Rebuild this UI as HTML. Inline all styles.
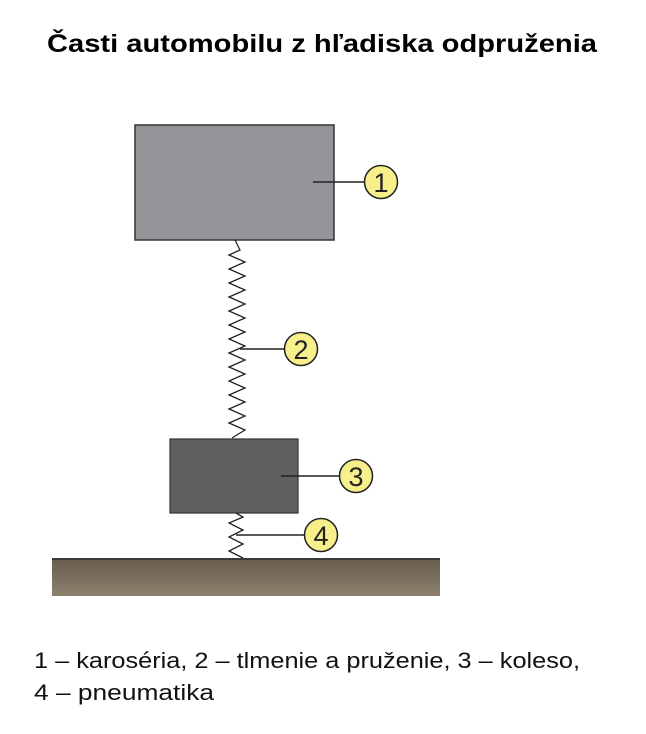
<!DOCTYPE html>
<html><head><meta charset="utf-8"><style>
body{margin:0;background:#fff;width:646px;height:729px;overflow:hidden;font-family:"Liberation Sans",sans-serif}
</style></head><body>
<svg width="646" height="729" xmlns="http://www.w3.org/2000/svg">
<defs><linearGradient id="g" x1="0" y1="0" x2="0" y2="1"><stop offset="0" stop-color="#675d4e"/><stop offset="1" stop-color="#8d816d"/></linearGradient></defs>
<text x="47" y="52" font-size="25" font-weight="bold" fill="#000" textLength="550" lengthAdjust="spacingAndGlyphs">Časti automobilu z hľadiska  odpruženia</text>
<rect x="135" y="125" width="199" height="115" fill="#949598" stroke="#333" stroke-width="1.5"/>
<polyline fill="none" stroke="#222" stroke-width="1.3" points="235,240 240,250 229,255 245,262 229,269 245,276 229,283 245,290 229,297 245,304 229,311 245,318 229,325 245,332 229,339 245,346 229,353 245,360 229,367 245,374 229,381 245,388 229,395 245,402 229,409 245,416 229,423 245,430 232,438"/>
<rect x="170" y="439" width="128" height="74" fill="#5f6062" stroke="#333" stroke-width="1.2"/>
<polyline fill="none" stroke="#222" stroke-width="1.3" points="236,513 243,517 229,523 243,530 229,537 243,544 229,551 243,558"/>
<rect x="52" y="559" width="388" height="37" fill="url(#g)"/>
<rect x="52" y="558" width="388" height="2" fill="#3e3a33"/>
<g stroke="#222" stroke-width="1.5">
<line x1="313" y1="182" x2="365" y2="182"/>
<line x1="240" y1="349" x2="284" y2="349"/>
<line x1="281" y1="476" x2="339" y2="476"/>
<line x1="236" y1="535" x2="304" y2="535"/>
</g>
<g fill="#f6ef8a" stroke="#222" stroke-width="1.5">
<circle cx="381" cy="182" r="16.5"/><circle cx="301" cy="349" r="16.5"/>
<circle cx="356" cy="476" r="16.5"/><circle cx="321" cy="535" r="16.5"/>
</g>
<g font-size="27" fill="#222" text-anchor="middle">
<text x="381" y="192">1</text><text x="301" y="359">2</text>
<text x="356" y="486">3</text><text x="321" y="545">4</text>
</g>
<text x="34" y="668" font-size="22" fill="#111" textLength="546" lengthAdjust="spacingAndGlyphs">1 – karoséria, 2 – tlmenie a pruženie, 3 – koleso,</text>
<text x="34" y="700" font-size="22" fill="#111" textLength="180" lengthAdjust="spacingAndGlyphs">4 – pneumatika</text>
</svg>
</body></html>
